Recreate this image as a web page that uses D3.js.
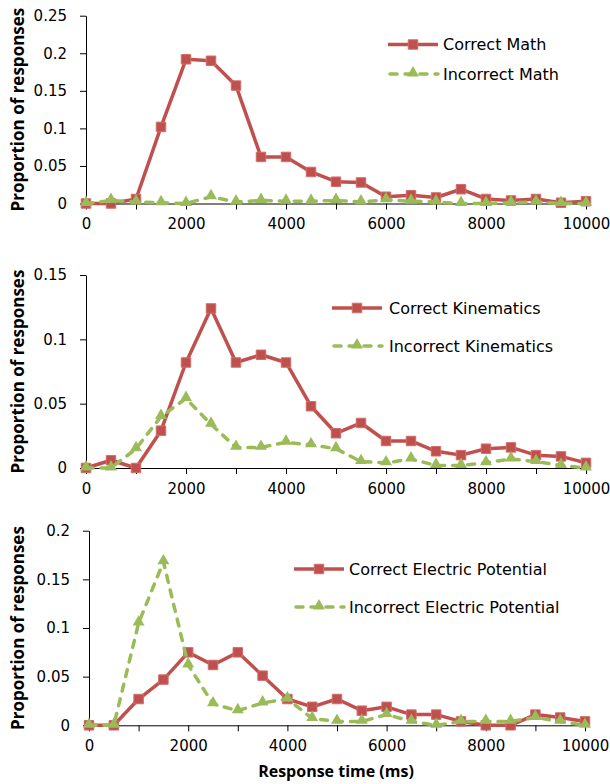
<!DOCTYPE html>
<html><head><meta charset="utf-8">
<script src="https://cdn.jsdelivr.net/npm/d3@7/dist/d3.min.js"></script>
<style>body{margin:0;background:#fff}</style>
</head><body><svg id="c" width="610" height="784"></svg>
<script>
// ---- data ----
const times = [0,500,1000,1500,2000,2500,3000,3500,4000,4500,5000,5500,6000,6500,7000,7500,8000,8500,9000,9500,10000];
const correctMath   = [0,0,0.006,0.102,0.192,0.190,0.157,0.062,0.062,0.042,0.029,0.028,0.009,0.011,0.008,0.019,0.006,0.004,0.006,0.001,0.003];
const incorrectMath = [0,0.004,0.002,0.001,0,0.009,0.002,0.004,0.003,0.003,0.004,0.002,0.005,0.003,0.002,0,0,0.001,0.002,0,0];
const correctKin    = [0,0.006,0,0.029,0.082,0.124,0.082,0.088,0.082,0.048,0.027,0.035,0.021,0.021,0.013,0.010,0.015,0.016,0.010,0.009,0.004];
const incorrectKin  = [0,0,0.015,0.040,0.054,0.034,0.016,0.016,0.020,0.018,0.015,0.005,0.004,0.007,0.002,0.002,0.004,0.007,0.005,0.002,0];
const correctEP     = [0,0,0.027,0.047,0.075,0.062,0.075,0.051,0.027,0.019,0.027,0.015,0.019,0.011,0.011,0.004,0,0,0.011,0.008,0.004];
const incorrectEP   = [0,0,0.105,0.168,0.062,0.022,0.015,0.023,0.027,0.007,0.004,0.004,0.011,0.004,0,0.004,0.004,0.004,0.008,0.004,0];
const seriesNames1 = ["Correct Math","Incorrect Math"];
const seriesNames2 = ["Correct Kinematics","Incorrect Kinematics"];
const seriesNames3 = ["Correct Electric Potential","Incorrect Electric Potential"];
const yTicks1 = [0,0.05,0.1,0.15,0.2,0.25];
const yTicks2 = [0,0.05,0.1,0.15];
const yTicks3 = [0,0.05,0.1,0.15,0.2];
const xTickValues = [0,1000,2000,3000,4000,5000,6000,7000,8000,9000,10000];
const xTickLabels = [0,2000,4000,6000,8000,10000];
const yTitle = "Proportion of responses";
const xTitle = "Response time (ms)";

const RED = "#C0504D", GREEN = "#9BBB59";
const TICKFONT = '"DejaVu Sans",sans-serif';
const TITLEFONT = '"Open Sans",sans-serif';
const svg = d3.select("#c");

const panels = [
  {c: correctMath, i: incorrectMath, names: seriesNames1, yt: yTicks1, xr:[86,586], yr:[203.5,15.7], lg:{x:388, y1:44.5, y2:74, tx:443}},
  {c: correctKin, i: incorrectKin, names: seriesNames2, yt: yTicks2, xr:[86,586], yr:[468,275], lg:{x:332, y1:308, y2:346, tx:389}},
  {c: correctEP, i: incorrectEP, names: seriesNames3, yt: yTicks3, xr:[89,585], yr:[725.3,530.7], lg:{x:294, y1:569, y2:607, tx:349}}
];

const sq = d3.symbol().type(d3.symbolSquare).size(90);
const tri = d3.symbol().type(d3.symbolTriangle).size(62);

panels.forEach(p => {
  const x = d3.scaleLinear().domain([0,10000]).range(p.xr);
  const y = d3.scaleLinear().domain([0, d3.max(p.yt)]).range(p.yr);
  const g = svg.append("g");

  // y axis
  const ya = g.append("g").attr("transform", `translate(${p.xr[0]},0)`)
    .call(d3.axisLeft(y).tickValues(p.yt).tickSize(6).tickSizeOuter(0).tickPadding(13).tickFormat(d => String(d)));
  ya.selectAll("text").style("font-size", "15px").attr("fill", "#000").style("font-family", TICKFONT);
  ya.selectAll("line,path").attr("stroke", "#000");

  // x axis
  const xa = g.append("g").attr("transform", `translate(0,${p.yr[0]})`)
    .call(d3.axisBottom(x).tickValues(xTickValues).tickSize(6).tickSizeOuter(0).tickPadding(9)
      .tickFormat(d => xTickLabels.includes(d) ? String(d) : ""));
  xa.selectAll("text").style("font-size", "15px").attr("fill", "#000").style("font-family", TICKFONT);
  xa.selectAll("line,path").attr("stroke", "#000");

  // y title
  g.append("text")
    .attr("transform", `translate(17,${(p.yr[0]+p.yr[1])/2}) rotate(-90)`)
    .attr("text-anchor", "middle").attr("dominant-baseline", "central")
    .style("font-family", TITLEFONT)
    .style("font-size", "17px").style("font-weight", "bold").text(yTitle);

  const line = d3.line().x((d,k) => x(times[k])).y(d => y(d));

  // correct series
  g.append("path").datum(p.c).attr("d", line).attr("fill", "none")
    .attr("stroke", RED).attr("stroke-width", 3.5).attr("stroke-linejoin", "round");
  g.selectAll(".sq").data(p.c).enter().append("path")
    .attr("d", sq).attr("transform", (d,k) => `translate(${x(times[k])},${y(d)})`)
    .attr("fill", RED).attr("stroke", "#D06E6B").attr("stroke-width", 1);

  // incorrect series
  g.append("path").datum(p.i).attr("d", line).attr("fill", "none")
    .attr("stroke", GREEN).attr("stroke-width", 3.5).attr("stroke-dasharray", "7,8")
    .attr("stroke-linecap", "round").attr("stroke-linejoin", "round");
  g.selectAll(".tr").data(p.i).enter().append("path")
    .attr("d", tri).attr("transform", (d,k) => `translate(${x(times[k])},${y(d)-1})`)
    .attr("fill", GREEN);

  // legend
  const L = p.lg;
  g.append("line").attr("x1", L.x).attr("x2", L.x+50).attr("y1", L.y1).attr("y2", L.y1)
    .attr("stroke", RED).attr("stroke-width", 3.5);
  g.append("path").attr("d", sq).attr("transform", `translate(${L.x+25},${L.y1})`)
    .attr("fill", RED).attr("stroke", "#D06E6B").attr("stroke-width", 1);
  g.append("text").attr("x", L.tx).attr("y", L.y1).attr("dominant-baseline", "central")
    .style("font-family", TICKFONT).style("font-size", "16px").text(p.names[0]);
  g.append("line").attr("x1", L.x+2).attr("x2", L.x+50).attr("y1", L.y2).attr("y2", L.y2)
    .attr("stroke", GREEN).attr("stroke-width", 3.5).attr("stroke-dasharray", "7,8").attr("stroke-linecap", "round");
  g.append("path").attr("d", tri).attr("transform", `translate(${L.x+25},${L.y2-1})`).attr("fill", GREEN);
  g.append("text").attr("x", L.tx).attr("y", L.y2).attr("dominant-baseline", "central")
    .style("font-family", TICKFONT).style("font-size", "16px").text(p.names[1]);
});

svg.append("text").attr("x", 336).attr("y", 777).attr("text-anchor", "middle")
  .style("font-family", TITLEFONT)
  .style("font-size", "16px").style("font-weight", "bold").text(xTitle);
</script></body></html>
